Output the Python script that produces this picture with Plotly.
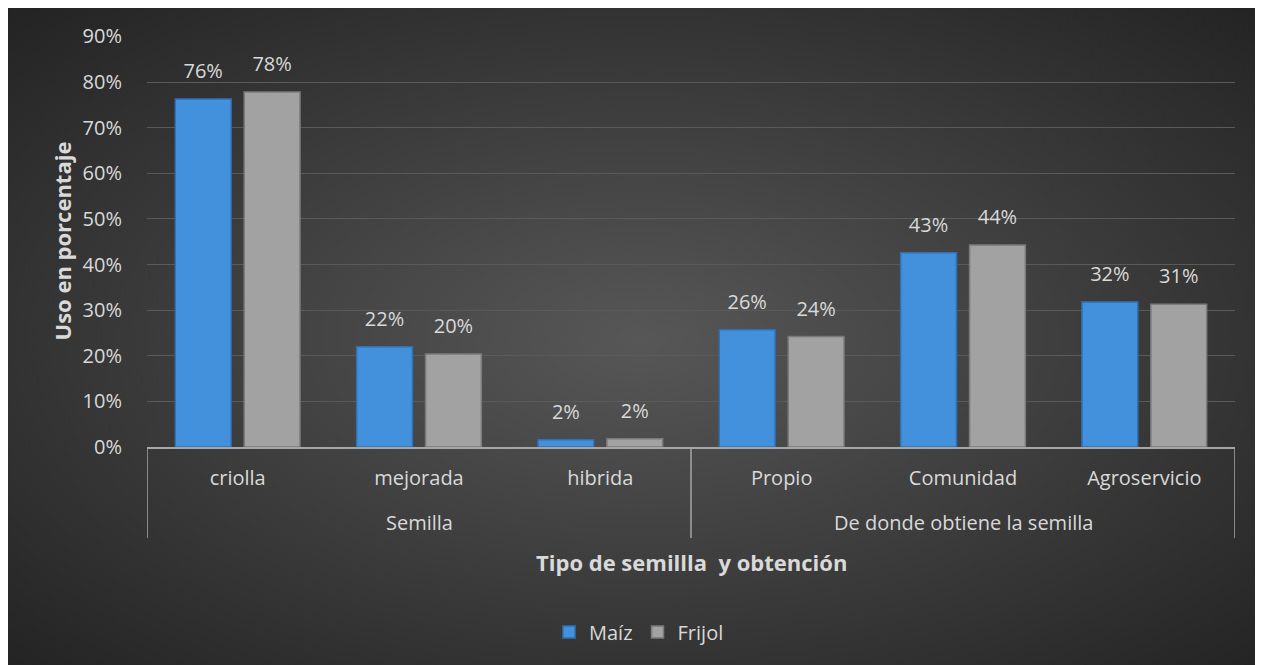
import base64
import plotly.graph_objects as go

groups = ["Semilla", "Semilla", "Semilla",
          "De donde obtiene la semilla", "De donde obtiene la semilla", "De donde obtiene la semilla"]
categories = ["criolla", "mejorada", "hibrida", "Propio", "Comunidad", "Agroservicio"]
maiz = [76.3, 22.0, 1.6, 25.7, 42.6, 31.8]
frijol = [77.8, 20.4, 1.8, 24.2, 44.3, 31.3]
y_ticks = [0, 10, 20, 30, 40, 50, 60, 70, 80, 90]
y_ticktext = [f"{v}%" for v in y_ticks]

W, H = 1263, 665
L, R, T, B = 139, 36, 28, 226
pw, ph = W - L - R, H - T - B
TXT = "#d9d9d9"
FONT = "Open Sans"
DIV = "#a6a6a6"


def py(fig_y):
    """figure pixel y -> paper fraction"""
    return (T + ph - fig_y) / ph


def px(fig_x):
    """figure pixel x -> paper fraction"""
    return (fig_x - L) / pw


svg = f'''<svg xmlns="http://www.w3.org/2000/svg" width="{W}" height="{H}" viewBox="0 0 {W} {H}" preserveAspectRatio="none">
<defs><radialGradient id="g" cx="50%" cy="50%" r="72%">
<stop offset="0%" stop-color="#575757"/><stop offset="100%" stop-color="#222222"/></radialGradient></defs>
<rect x="0" y="0" width="{W}" height="{H}" fill="url(#g)"/></svg>'''
src = "data:image/svg+xml;base64," + base64.b64encode(svg.encode()).decode()

lab = lambda v: [f"{round(a)}%" for a in v]

fig = go.Figure()
series = [("Maíz", maiz, "#4391dc", "#3270b4"), ("Frijol", frijol, "#a2a2a2", "#7a7a7a")]
for name, vals, col, edge in series:
    fig.add_trace(go.Bar(x=categories, y=vals, name=name, offsetgroup=name, alignmentgroup="a",
                         marker=dict(color=col, line=dict(color=edge, width=1.5))))
for name, vals, col, edge in series:
    fig.add_trace(go.Scatter(x=categories, y=vals, mode="markers+text", text=lab(vals),
                             textposition="top center", offsetgroup=name, alignmentgroup="a",
                             showlegend=False, hoverinfo="skip",
                             marker=dict(size=24, opacity=0),
                             textfont=dict(color=TXT, size=20, family=FONT), cliponaxis=False))

# group labels and dividers for the two-level category axis
group_names = list(dict.fromkeys(groups))
annotations = []
shapes = []
start = 0
bounds = [-0.5]
for g in group_names:
    n = groups.count(g)
    mid = start + (n - 1) / 2
    annotations.append(dict(text=g, xref="x", yref="paper", x=mid, y=py(514), showarrow=False,
                            yanchor="middle", font=dict(size=20, color=TXT)))
    start += n
    bounds.append(start - 0.5)
for b in bounds:
    shapes.append(dict(type="line", xref="x", yref="paper", x0=b, x1=b, y0=0, y1=py(530),
                       line=dict(color=DIV, width=1.5)))

annotations.append(dict(text="<b>Tipo de semillla  y obtención</b>", xref="paper", yref="paper",
                        x=0.5, y=py(554), showarrow=False, yanchor="middle",
                        font=dict(size=22, color=TXT)))
annotations.append(dict(text="<b>Uso en porcentaje</b>", xref="paper", yref="paper",
                        x=px(53), y=0.5, showarrow=False, textangle=-90,
                        xanchor="center", yanchor="middle", font=dict(size=22, color=TXT)))

fig.update_layout(
    width=W, height=H,
    margin=dict(l=L, r=R, t=T, b=B, pad=0, autoexpand=False),
    paper_bgcolor="#333333", plot_bgcolor="rgba(0,0,0,0)",
    font=dict(family=FONT, color=TXT, size=20),
    barmode="group", bargap=0.24, bargroupgap=0.19, scattermode="group",
    showlegend=True,
    legend=dict(orientation="h", x=px(631), xanchor="center", y=py(624), yanchor="middle",
                font=dict(size=20, color=TXT), bgcolor="rgba(0,0,0,0)", itemwidth=30),
    images=[dict(source=src, xref="paper", yref="paper",
                 x=-L / pw, y=1 + T / ph, sizex=W / pw, sizey=H / ph,
                 sizing="stretch", layer="below", xanchor="left", yanchor="top")],
    annotations=annotations,
    shapes=shapes,
)
fig.update_yaxes(range=[0, 90.1], tickvals=y_ticks, ticktext=y_ticktext, showgrid=True,
                 gridcolor="#5a5a5a", gridwidth=1, zeroline=False, showline=False,
                 ticks="", ticklabelstandoff=24, tickfont=dict(size=20, color=TXT))
fig.update_xaxes(type="category", range=[-0.5, len(categories) - 0.5], showline=True,
                 linecolor=DIV, linewidth=1.5, tickangle=0, automargin=False,
                 ticks="", ticklabelstandoff=12, tickfont=dict(size=20, color=TXT))

fig.write_html("out.html")
